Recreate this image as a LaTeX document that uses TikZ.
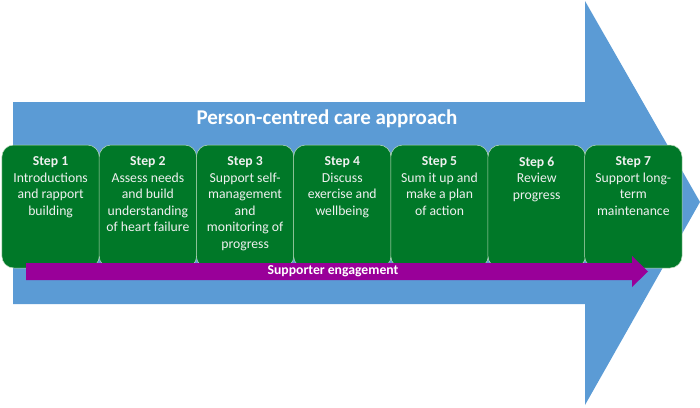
\documentclass[tikz,border=0pt]{standalone}
\usepackage{fontspec}
\setmainfont{Carlito}
\definecolor{arrowblue}{RGB}{91,155,213}
\definecolor{boxgreen}{RGB}{0,120,40}
\definecolor{boxedge}{RGB}{190,220,190}
\definecolor{purp}{RGB}{153,0,153}
\definecolor{steptext}{RGB}{240,240,240}
\begin{document}
\begin{tikzpicture}[x=1pt,y=1pt,
  stepbox/.style={draw=boxedge, line width=0.5pt, fill=boxgreen, rounded corners=12pt,
    minimum width=97.5pt, minimum height=123pt, inner sep=0pt},
  steptxt/.style={anchor=north, align=center, text=steptext, font=\fontsize{13.7}{16.5}\selectfont, inner sep=0pt},
]
\useasboundingbox (0,0) rectangle (700,-407);
% big blue arrow
\fill[arrowblue] (13,-102) -- (585,-102) -- (585,-1) -- (700,-202) -- (585,-405) -- (585,-304) -- (13,-304) -- cycle;
\node[text=white, font=\fontsize{21}{24}\selectfont\bfseries] (title) at (327,-119) {Person-centred care approach};
% step boxes
\foreach \i/\x in {1/50.6,2/147.9,3/245.1,4/342.3,5/439.5,6/536.7,7/633.3}{
  \node[stepbox] (s\i) at (\x,-206.5) {};
}
\node[steptxt] (t1) at ([yshift=-12pt]s1.north) {\textbf{Step 1}\\Introductions\\and rapport\\building};
\node[steptxt] (t2) at ([yshift=-12pt]s2.north) {\textbf{Step 2}\\Assess needs\\and build\\understanding\\of heart failure};
\node[steptxt] (t3) at ([yshift=-12pt]s3.north) {\textbf{Step 3}\\Support self-\\management\\and\\monitoring of\\progress};
\node[steptxt] (t4) at ([yshift=-12pt]s4.north) {\textbf{Step 4}\\Discuss\\exercise and\\wellbeing};
\node[steptxt] (t5) at ([yshift=-12pt]s5.north) {\textbf{Step 5}\\Sum it up and\\make a plan\\of action};
\node[steptxt] (t6) at ([yshift=-12pt]s6.north) {\textbf{Step 6}\\Review\\progress};
\node[steptxt] (t7) at ([yshift=-12pt]s7.north) {\textbf{Step 7}\\Support long-\\term\\maintenance};
% purple arrow
\fill[purp] (26,-263) -- (632,-263) -- (632,-256) -- (648,-271.5) -- (632,-287) -- (632,-280) -- (26,-280) -- cycle;
\node[text=white, font=\fontsize{13.7}{16}\selectfont\bfseries] (sup) at (333,-271.5) {Supporter engagement};
\end{tikzpicture}
\end{document}
